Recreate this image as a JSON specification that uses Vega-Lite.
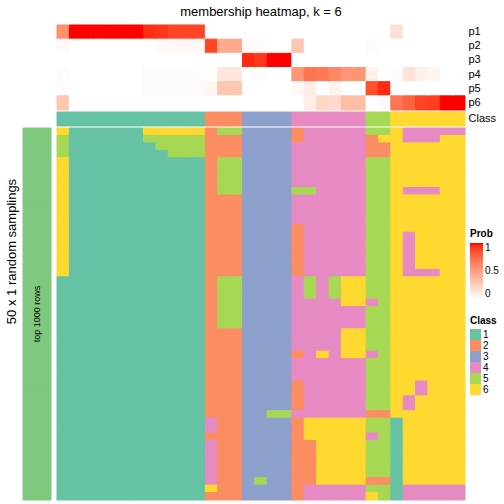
{
"$schema": "https://vega.github.io/schema/vega-lite/v6.json",
"padding": 5,
"config": {"view": {"stroke": null}, "font": "Liberation Sans"},
"columns": 2,
"align": "each",
"bounds": "flush",
"spacing": {"row": 2, "column": 6},
"resolve": {"scale": {"fill": "independent", "stroke": "independent"}},
"datasets": {
"p": [
{"c":0,"p":"p1","v":0.58},{"c":0,"p":"p2","v":0.03},{"c":0,"p":"p3","v":0},{"c":0,"p":"p4","v":0.02},{"c":0,"p":"p5","v":0.02},{"c":0,"p":"p6","v":0.3},
{"c":1,"p":"p1","v":1},{"c":1,"p":"p2","v":0},{"c":1,"p":"p3","v":0},{"c":1,"p":"p4","v":0},{"c":1,"p":"p5","v":0},{"c":1,"p":"p6","v":0},
{"c":2,"p":"p1","v":1},{"c":2,"p":"p2","v":0},{"c":2,"p":"p3","v":0},{"c":2,"p":"p4","v":0},{"c":2,"p":"p5","v":0},{"c":2,"p":"p6","v":0},
{"c":3,"p":"p1","v":1},{"c":3,"p":"p2","v":0},{"c":3,"p":"p3","v":0},{"c":3,"p":"p4","v":0},{"c":3,"p":"p5","v":0},{"c":3,"p":"p6","v":0},
{"c":4,"p":"p1","v":1},{"c":4,"p":"p2","v":0},{"c":4,"p":"p3","v":0},{"c":4,"p":"p4","v":0},{"c":4,"p":"p5","v":0},{"c":4,"p":"p6","v":0},
{"c":5,"p":"p1","v":1},{"c":5,"p":"p2","v":0},{"c":5,"p":"p3","v":0},{"c":5,"p":"p4","v":0},{"c":5,"p":"p5","v":0},{"c":5,"p":"p6","v":0},
{"c":6,"p":"p1","v":1},{"c":6,"p":"p2","v":0},{"c":6,"p":"p3","v":0},{"c":6,"p":"p4","v":0},{"c":6,"p":"p5","v":0},{"c":6,"p":"p6","v":0},
{"c":7,"p":"p1","v":0.94},{"c":7,"p":"p2","v":0},{"c":7,"p":"p3","v":0},{"c":7,"p":"p4","v":0.02},{"c":7,"p":"p5","v":0.02},{"c":7,"p":"p6","v":0},
{"c":8,"p":"p1","v":0.92},{"c":8,"p":"p2","v":0.03},{"c":8,"p":"p3","v":0},{"c":8,"p":"p4","v":0.02},{"c":8,"p":"p5","v":0.02},{"c":8,"p":"p6","v":0},
{"c":9,"p":"p1","v":0.88},{"c":9,"p":"p2","v":0.04},{"c":9,"p":"p3","v":0},{"c":9,"p":"p4","v":0.02},{"c":9,"p":"p5","v":0.02},{"c":9,"p":"p6","v":0},
{"c":10,"p":"p1","v":0.88},{"c":10,"p":"p2","v":0.04},{"c":10,"p":"p3","v":0},{"c":10,"p":"p4","v":0.02},{"c":10,"p":"p5","v":0.02},{"c":10,"p":"p6","v":0},
{"c":11,"p":"p1","v":0.88},{"c":11,"p":"p2","v":0.04},{"c":11,"p":"p3","v":0},{"c":11,"p":"p4","v":0.02},{"c":11,"p":"p5","v":0.02},{"c":11,"p":"p6","v":0},
{"c":12,"p":"p1","v":0},{"c":12,"p":"p2","v":0.88},{"c":12,"p":"p3","v":0},{"c":12,"p":"p4","v":0},{"c":12,"p":"p5","v":0.05},{"c":12,"p":"p6","v":0},
{"c":13,"p":"p1","v":0},{"c":13,"p":"p2","v":0.45},{"c":13,"p":"p3","v":0},{"c":13,"p":"p4","v":0.13},{"c":13,"p":"p5","v":0.3},{"c":13,"p":"p6","v":0},
{"c":14,"p":"p1","v":0},{"c":14,"p":"p2","v":0.45},{"c":14,"p":"p3","v":0},{"c":14,"p":"p4","v":0.13},{"c":14,"p":"p5","v":0.3},{"c":14,"p":"p6","v":0},
{"c":15,"p":"p1","v":0},{"c":15,"p":"p2","v":0.02},{"c":15,"p":"p3","v":0.95},{"c":15,"p":"p4","v":0},{"c":15,"p":"p5","v":0},{"c":15,"p":"p6","v":0},
{"c":16,"p":"p1","v":0},{"c":16,"p":"p2","v":0.02},{"c":16,"p":"p3","v":0.92},{"c":16,"p":"p4","v":0.02},{"c":16,"p":"p5","v":0},{"c":16,"p":"p6","v":0},
{"c":17,"p":"p1","v":0},{"c":17,"p":"p2","v":0},{"c":17,"p":"p3","v":1},{"c":17,"p":"p4","v":0},{"c":17,"p":"p5","v":0},{"c":17,"p":"p6","v":0},
{"c":18,"p":"p1","v":0},{"c":18,"p":"p2","v":0},{"c":18,"p":"p3","v":1},{"c":18,"p":"p4","v":0},{"c":18,"p":"p5","v":0},{"c":18,"p":"p6","v":0},
{"c":19,"p":"p1","v":0},{"c":19,"p":"p2","v":0.3},{"c":19,"p":"p3","v":0},{"c":19,"p":"p4","v":0.55},{"c":19,"p":"p5","v":0.04},{"c":19,"p":"p6","v":0},
{"c":20,"p":"p1","v":0},{"c":20,"p":"p2","v":0},{"c":20,"p":"p3","v":0},{"c":20,"p":"p4","v":0.7},{"c":20,"p":"p5","v":0.1},{"c":20,"p":"p6","v":0.1},
{"c":21,"p":"p1","v":0},{"c":21,"p":"p2","v":0},{"c":21,"p":"p3","v":0},{"c":21,"p":"p4","v":0.68},{"c":21,"p":"p5","v":0},{"c":21,"p":"p6","v":0.22},
{"c":22,"p":"p1","v":0},{"c":22,"p":"p2","v":0},{"c":22,"p":"p3","v":0},{"c":22,"p":"p4","v":0.62},{"c":22,"p":"p5","v":0.06},{"c":22,"p":"p6","v":0.2},
{"c":23,"p":"p1","v":0},{"c":23,"p":"p2","v":0},{"c":23,"p":"p3","v":0},{"c":23,"p":"p4","v":0.55},{"c":23,"p":"p5","v":0},{"c":23,"p":"p6","v":0.35},
{"c":24,"p":"p1","v":0},{"c":24,"p":"p2","v":0},{"c":24,"p":"p3","v":0},{"c":24,"p":"p4","v":0.55},{"c":24,"p":"p5","v":0},{"c":24,"p":"p6","v":0.35},
{"c":25,"p":"p1","v":0},{"c":25,"p":"p2","v":0.02},{"c":25,"p":"p3","v":0},{"c":25,"p":"p4","v":0.07},{"c":25,"p":"p5","v":0.85},{"c":25,"p":"p6","v":0},
{"c":26,"p":"p1","v":0},{"c":26,"p":"p2","v":0},{"c":26,"p":"p3","v":0},{"c":26,"p":"p4","v":0},{"c":26,"p":"p5","v":0.95},{"c":26,"p":"p6","v":0.02},
{"c":27,"p":"p1","v":0.17},{"c":27,"p":"p2","v":0},{"c":27,"p":"p3","v":0},{"c":27,"p":"p4","v":0.02},{"c":27,"p":"p5","v":0},{"c":27,"p":"p6","v":0.7},
{"c":28,"p":"p1","v":0},{"c":28,"p":"p2","v":0},{"c":28,"p":"p3","v":0},{"c":28,"p":"p4","v":0.15},{"c":28,"p":"p5","v":0},{"c":28,"p":"p6","v":0.78},
{"c":29,"p":"p1","v":0},{"c":29,"p":"p2","v":0},{"c":29,"p":"p3","v":0},{"c":29,"p":"p4","v":0.08},{"c":29,"p":"p5","v":0},{"c":29,"p":"p6","v":0.88},
{"c":30,"p":"p1","v":0},{"c":30,"p":"p2","v":0},{"c":30,"p":"p3","v":0},{"c":30,"p":"p4","v":0.05},{"c":30,"p":"p5","v":0},{"c":30,"p":"p6","v":0.9},
{"c":31,"p":"p1","v":0},{"c":31,"p":"p2","v":0},{"c":31,"p":"p3","v":0},{"c":31,"p":"p4","v":0},{"c":31,"p":"p5","v":0},{"c":31,"p":"p6","v":1},
{"c":32,"p":"p1","v":0},{"c":32,"p":"p2","v":0},{"c":32,"p":"p3","v":0},{"c":32,"p":"p4","v":0},{"c":32,"p":"p5","v":0},{"c":32,"p":"p6","v":1}
],
"k": [
{"c":0,"k":1},{"c":1,"k":1},{"c":2,"k":1},{"c":3,"k":1},{"c":4,"k":1},{"c":5,"k":1},{"c":6,"k":1},{"c":7,"k":1},{"c":8,"k":1},{"c":9,"k":1},{"c":10,"k":1},{"c":11,"k":1},
{"c":12,"k":2},{"c":13,"k":2},{"c":14,"k":2},
{"c":15,"k":3},{"c":16,"k":3},{"c":17,"k":3},{"c":18,"k":3},
{"c":19,"k":4},{"c":20,"k":4},{"c":21,"k":4},{"c":22,"k":4},{"c":23,"k":4},{"c":24,"k":4},
{"c":25,"k":5},{"c":26,"k":5},
{"c":27,"k":6},{"c":28,"k":6},{"c":29,"k":6},{"c":30,"k":6},{"c":31,"k":6},{"c":32,"k":6}
],
"m": [
{"r":0,"c":0,"k":6},{"r":0,"c":1,"k":1},{"r":0,"c":2,"k":1},{"r":0,"c":3,"k":1},{"r":0,"c":4,"k":1},{"r":0,"c":5,"k":1},{"r":0,"c":6,"k":1},{"r":0,"c":7,"k":6},{"r":0,"c":8,"k":6},{"r":0,"c":9,"k":6},{"r":0,"c":10,"k":6},{"r":0,"c":11,"k":6},{"r":0,"c":12,"k":2},{"r":0,"c":13,"k":5},{"r":0,"c":14,"k":5},{"r":0,"c":15,"k":3},{"r":0,"c":16,"k":3},{"r":0,"c":17,"k":3},{"r":0,"c":18,"k":3},{"r":0,"c":19,"k":2},{"r":0,"c":20,"k":4},{"r":0,"c":21,"k":4},{"r":0,"c":22,"k":4},{"r":0,"c":23,"k":4},{"r":0,"c":24,"k":4},{"r":0,"c":25,"k":5},{"r":0,"c":26,"k":5},{"r":0,"c":27,"k":6},{"r":0,"c":28,"k":4},{"r":0,"c":29,"k":4},{"r":0,"c":30,"k":4},{"r":0,"c":31,"k":4},{"r":0,"c":32,"k":4},
{"r":1,"c":0,"k":5},{"r":1,"c":1,"k":1},{"r":1,"c":2,"k":1},{"r":1,"c":3,"k":1},{"r":1,"c":4,"k":1},{"r":1,"c":5,"k":1},{"r":1,"c":6,"k":1},{"r":1,"c":7,"k":5},{"r":1,"c":8,"k":5},{"r":1,"c":9,"k":5},{"r":1,"c":10,"k":5},{"r":1,"c":11,"k":5},{"r":1,"c":12,"k":2},{"r":1,"c":13,"k":2},{"r":1,"c":14,"k":2},{"r":1,"c":15,"k":3},{"r":1,"c":16,"k":3},{"r":1,"c":17,"k":3},{"r":1,"c":18,"k":3},{"r":1,"c":19,"k":2},{"r":1,"c":20,"k":4},{"r":1,"c":21,"k":4},{"r":1,"c":22,"k":4},{"r":1,"c":23,"k":4},{"r":1,"c":24,"k":4},{"r":1,"c":25,"k":2},{"r":1,"c":26,"k":6},{"r":1,"c":27,"k":6},{"r":1,"c":28,"k":4},{"r":1,"c":29,"k":4},{"r":1,"c":30,"k":4},{"r":1,"c":31,"k":6},{"r":1,"c":32,"k":6},
{"r":2,"c":0,"k":5},{"r":2,"c":1,"k":1},{"r":2,"c":2,"k":1},{"r":2,"c":3,"k":1},{"r":2,"c":4,"k":1},{"r":2,"c":5,"k":1},{"r":2,"c":6,"k":1},{"r":2,"c":7,"k":1},{"r":2,"c":8,"k":5},{"r":2,"c":9,"k":5},{"r":2,"c":10,"k":5},{"r":2,"c":11,"k":5},{"r":2,"c":12,"k":2},{"r":2,"c":13,"k":2},{"r":2,"c":14,"k":2},{"r":2,"c":15,"k":3},{"r":2,"c":16,"k":3},{"r":2,"c":17,"k":3},{"r":2,"c":18,"k":3},{"r":2,"c":19,"k":4},{"r":2,"c":20,"k":4},{"r":2,"c":21,"k":4},{"r":2,"c":22,"k":4},{"r":2,"c":23,"k":4},{"r":2,"c":24,"k":4},{"r":2,"c":25,"k":2},{"r":2,"c":26,"k":2},{"r":2,"c":27,"k":6},{"r":2,"c":28,"k":6},{"r":2,"c":29,"k":6},{"r":2,"c":30,"k":6},{"r":2,"c":31,"k":6},{"r":2,"c":32,"k":6},
{"r":3,"c":0,"k":5},{"r":3,"c":1,"k":1},{"r":3,"c":2,"k":1},{"r":3,"c":3,"k":1},{"r":3,"c":4,"k":1},{"r":3,"c":5,"k":1},{"r":3,"c":6,"k":1},{"r":3,"c":7,"k":1},{"r":3,"c":8,"k":1},{"r":3,"c":9,"k":5},{"r":3,"c":10,"k":5},{"r":3,"c":11,"k":5},{"r":3,"c":12,"k":2},{"r":3,"c":13,"k":2},{"r":3,"c":14,"k":2},{"r":3,"c":15,"k":3},{"r":3,"c":16,"k":3},{"r":3,"c":17,"k":3},{"r":3,"c":18,"k":3},{"r":3,"c":19,"k":4},{"r":3,"c":20,"k":4},{"r":3,"c":21,"k":4},{"r":3,"c":22,"k":4},{"r":3,"c":23,"k":4},{"r":3,"c":24,"k":4},{"r":3,"c":25,"k":2},{"r":3,"c":26,"k":2},{"r":3,"c":27,"k":6},{"r":3,"c":28,"k":6},{"r":3,"c":29,"k":6},{"r":3,"c":30,"k":6},{"r":3,"c":31,"k":6},{"r":3,"c":32,"k":6},
{"r":4,"c":0,"k":6},{"r":4,"c":1,"k":1},{"r":4,"c":2,"k":1},{"r":4,"c":3,"k":1},{"r":4,"c":4,"k":1},{"r":4,"c":5,"k":1},{"r":4,"c":6,"k":1},{"r":4,"c":7,"k":1},{"r":4,"c":8,"k":1},{"r":4,"c":9,"k":1},{"r":4,"c":10,"k":1},{"r":4,"c":11,"k":1},{"r":4,"c":12,"k":2},{"r":4,"c":13,"k":5},{"r":4,"c":14,"k":5},{"r":4,"c":15,"k":3},{"r":4,"c":16,"k":3},{"r":4,"c":17,"k":3},{"r":4,"c":18,"k":3},{"r":4,"c":19,"k":4},{"r":4,"c":20,"k":4},{"r":4,"c":21,"k":4},{"r":4,"c":22,"k":4},{"r":4,"c":23,"k":4},{"r":4,"c":24,"k":4},{"r":4,"c":25,"k":5},{"r":4,"c":26,"k":5},{"r":4,"c":27,"k":6},{"r":4,"c":28,"k":6},{"r":4,"c":29,"k":6},{"r":4,"c":30,"k":6},{"r":4,"c":31,"k":6},{"r":4,"c":32,"k":6},
{"r":5,"c":0,"k":6},{"r":5,"c":1,"k":1},{"r":5,"c":2,"k":1},{"r":5,"c":3,"k":1},{"r":5,"c":4,"k":1},{"r":5,"c":5,"k":1},{"r":5,"c":6,"k":1},{"r":5,"c":7,"k":1},{"r":5,"c":8,"k":1},{"r":5,"c":9,"k":1},{"r":5,"c":10,"k":1},{"r":5,"c":11,"k":1},{"r":5,"c":12,"k":2},{"r":5,"c":13,"k":5},{"r":5,"c":14,"k":5},{"r":5,"c":15,"k":3},{"r":5,"c":16,"k":3},{"r":5,"c":17,"k":3},{"r":5,"c":18,"k":3},{"r":5,"c":19,"k":4},{"r":5,"c":20,"k":4},{"r":5,"c":21,"k":4},{"r":5,"c":22,"k":4},{"r":5,"c":23,"k":4},{"r":5,"c":24,"k":4},{"r":5,"c":25,"k":5},{"r":5,"c":26,"k":5},{"r":5,"c":27,"k":6},{"r":5,"c":28,"k":6},{"r":5,"c":29,"k":6},{"r":5,"c":30,"k":6},{"r":5,"c":31,"k":6},{"r":5,"c":32,"k":6},
{"r":6,"c":0,"k":6},{"r":6,"c":1,"k":1},{"r":6,"c":2,"k":1},{"r":6,"c":3,"k":1},{"r":6,"c":4,"k":1},{"r":6,"c":5,"k":1},{"r":6,"c":6,"k":1},{"r":6,"c":7,"k":1},{"r":6,"c":8,"k":1},{"r":6,"c":9,"k":1},{"r":6,"c":10,"k":1},{"r":6,"c":11,"k":1},{"r":6,"c":12,"k":2},{"r":6,"c":13,"k":5},{"r":6,"c":14,"k":5},{"r":6,"c":15,"k":3},{"r":6,"c":16,"k":3},{"r":6,"c":17,"k":3},{"r":6,"c":18,"k":3},{"r":6,"c":19,"k":4},{"r":6,"c":20,"k":4},{"r":6,"c":21,"k":4},{"r":6,"c":22,"k":4},{"r":6,"c":23,"k":4},{"r":6,"c":24,"k":4},{"r":6,"c":25,"k":5},{"r":6,"c":26,"k":5},{"r":6,"c":27,"k":6},{"r":6,"c":28,"k":6},{"r":6,"c":29,"k":6},{"r":6,"c":30,"k":6},{"r":6,"c":31,"k":6},{"r":6,"c":32,"k":6},
{"r":7,"c":0,"k":6},{"r":7,"c":1,"k":1},{"r":7,"c":2,"k":1},{"r":7,"c":3,"k":1},{"r":7,"c":4,"k":1},{"r":7,"c":5,"k":1},{"r":7,"c":6,"k":1},{"r":7,"c":7,"k":1},{"r":7,"c":8,"k":1},{"r":7,"c":9,"k":1},{"r":7,"c":10,"k":1},{"r":7,"c":11,"k":1},{"r":7,"c":12,"k":2},{"r":7,"c":13,"k":5},{"r":7,"c":14,"k":5},{"r":7,"c":15,"k":3},{"r":7,"c":16,"k":3},{"r":7,"c":17,"k":3},{"r":7,"c":18,"k":3},{"r":7,"c":19,"k":4},{"r":7,"c":20,"k":4},{"r":7,"c":21,"k":4},{"r":7,"c":22,"k":4},{"r":7,"c":23,"k":4},{"r":7,"c":24,"k":4},{"r":7,"c":25,"k":5},{"r":7,"c":26,"k":5},{"r":7,"c":27,"k":6},{"r":7,"c":28,"k":6},{"r":7,"c":29,"k":6},{"r":7,"c":30,"k":6},{"r":7,"c":31,"k":6},{"r":7,"c":32,"k":6},
{"r":8,"c":0,"k":6},{"r":8,"c":1,"k":1},{"r":8,"c":2,"k":1},{"r":8,"c":3,"k":1},{"r":8,"c":4,"k":1},{"r":8,"c":5,"k":1},{"r":8,"c":6,"k":1},{"r":8,"c":7,"k":1},{"r":8,"c":8,"k":1},{"r":8,"c":9,"k":1},{"r":8,"c":10,"k":1},{"r":8,"c":11,"k":1},{"r":8,"c":12,"k":2},{"r":8,"c":13,"k":5},{"r":8,"c":14,"k":5},{"r":8,"c":15,"k":3},{"r":8,"c":16,"k":3},{"r":8,"c":17,"k":3},{"r":8,"c":18,"k":3},{"r":8,"c":19,"k":5},{"r":8,"c":20,"k":5},{"r":8,"c":21,"k":4},{"r":8,"c":22,"k":4},{"r":8,"c":23,"k":4},{"r":8,"c":24,"k":4},{"r":8,"c":25,"k":5},{"r":8,"c":26,"k":5},{"r":8,"c":27,"k":6},{"r":8,"c":28,"k":4},{"r":8,"c":29,"k":4},{"r":8,"c":30,"k":4},{"r":8,"c":31,"k":6},{"r":8,"c":32,"k":6},
{"r":9,"c":0,"k":6},{"r":9,"c":1,"k":1},{"r":9,"c":2,"k":1},{"r":9,"c":3,"k":1},{"r":9,"c":4,"k":1},{"r":9,"c":5,"k":1},{"r":9,"c":6,"k":1},{"r":9,"c":7,"k":1},{"r":9,"c":8,"k":1},{"r":9,"c":9,"k":1},{"r":9,"c":10,"k":1},{"r":9,"c":11,"k":1},{"r":9,"c":12,"k":2},{"r":9,"c":13,"k":2},{"r":9,"c":14,"k":2},{"r":9,"c":15,"k":3},{"r":9,"c":16,"k":3},{"r":9,"c":17,"k":3},{"r":9,"c":18,"k":3},{"r":9,"c":19,"k":4},{"r":9,"c":20,"k":4},{"r":9,"c":21,"k":4},{"r":9,"c":22,"k":4},{"r":9,"c":23,"k":4},{"r":9,"c":24,"k":4},{"r":9,"c":25,"k":5},{"r":9,"c":26,"k":5},{"r":9,"c":27,"k":6},{"r":9,"c":28,"k":6},{"r":9,"c":29,"k":6},{"r":9,"c":30,"k":6},{"r":9,"c":31,"k":6},{"r":9,"c":32,"k":6},
{"r":10,"c":0,"k":6},{"r":10,"c":1,"k":1},{"r":10,"c":2,"k":1},{"r":10,"c":3,"k":1},{"r":10,"c":4,"k":1},{"r":10,"c":5,"k":1},{"r":10,"c":6,"k":1},{"r":10,"c":7,"k":1},{"r":10,"c":8,"k":1},{"r":10,"c":9,"k":1},{"r":10,"c":10,"k":1},{"r":10,"c":11,"k":1},{"r":10,"c":12,"k":2},{"r":10,"c":13,"k":2},{"r":10,"c":14,"k":2},{"r":10,"c":15,"k":3},{"r":10,"c":16,"k":3},{"r":10,"c":17,"k":3},{"r":10,"c":18,"k":3},{"r":10,"c":19,"k":4},{"r":10,"c":20,"k":4},{"r":10,"c":21,"k":4},{"r":10,"c":22,"k":4},{"r":10,"c":23,"k":4},{"r":10,"c":24,"k":4},{"r":10,"c":25,"k":5},{"r":10,"c":26,"k":5},{"r":10,"c":27,"k":6},{"r":10,"c":28,"k":6},{"r":10,"c":29,"k":6},{"r":10,"c":30,"k":6},{"r":10,"c":31,"k":6},{"r":10,"c":32,"k":6},
{"r":11,"c":0,"k":6},{"r":11,"c":1,"k":1},{"r":11,"c":2,"k":1},{"r":11,"c":3,"k":1},{"r":11,"c":4,"k":1},{"r":11,"c":5,"k":1},{"r":11,"c":6,"k":1},{"r":11,"c":7,"k":1},{"r":11,"c":8,"k":1},{"r":11,"c":9,"k":1},{"r":11,"c":10,"k":1},{"r":11,"c":11,"k":1},{"r":11,"c":12,"k":2},{"r":11,"c":13,"k":2},{"r":11,"c":14,"k":2},{"r":11,"c":15,"k":3},{"r":11,"c":16,"k":3},{"r":11,"c":17,"k":3},{"r":11,"c":18,"k":3},{"r":11,"c":19,"k":4},{"r":11,"c":20,"k":4},{"r":11,"c":21,"k":4},{"r":11,"c":22,"k":4},{"r":11,"c":23,"k":4},{"r":11,"c":24,"k":4},{"r":11,"c":25,"k":5},{"r":11,"c":26,"k":5},{"r":11,"c":27,"k":6},{"r":11,"c":28,"k":6},{"r":11,"c":29,"k":6},{"r":11,"c":30,"k":6},{"r":11,"c":31,"k":6},{"r":11,"c":32,"k":6},
{"r":12,"c":0,"k":6},{"r":12,"c":1,"k":1},{"r":12,"c":2,"k":1},{"r":12,"c":3,"k":1},{"r":12,"c":4,"k":1},{"r":12,"c":5,"k":1},{"r":12,"c":6,"k":1},{"r":12,"c":7,"k":1},{"r":12,"c":8,"k":1},{"r":12,"c":9,"k":1},{"r":12,"c":10,"k":1},{"r":12,"c":11,"k":1},{"r":12,"c":12,"k":2},{"r":12,"c":13,"k":2},{"r":12,"c":14,"k":2},{"r":12,"c":15,"k":3},{"r":12,"c":16,"k":3},{"r":12,"c":17,"k":3},{"r":12,"c":18,"k":3},{"r":12,"c":19,"k":4},{"r":12,"c":20,"k":4},{"r":12,"c":21,"k":4},{"r":12,"c":22,"k":4},{"r":12,"c":23,"k":4},{"r":12,"c":24,"k":4},{"r":12,"c":25,"k":5},{"r":12,"c":26,"k":5},{"r":12,"c":27,"k":6},{"r":12,"c":28,"k":6},{"r":12,"c":29,"k":6},{"r":12,"c":30,"k":6},{"r":12,"c":31,"k":6},{"r":12,"c":32,"k":6},
{"r":13,"c":0,"k":6},{"r":13,"c":1,"k":1},{"r":13,"c":2,"k":1},{"r":13,"c":3,"k":1},{"r":13,"c":4,"k":1},{"r":13,"c":5,"k":1},{"r":13,"c":6,"k":1},{"r":13,"c":7,"k":1},{"r":13,"c":8,"k":1},{"r":13,"c":9,"k":1},{"r":13,"c":10,"k":1},{"r":13,"c":11,"k":1},{"r":13,"c":12,"k":2},{"r":13,"c":13,"k":2},{"r":13,"c":14,"k":2},{"r":13,"c":15,"k":3},{"r":13,"c":16,"k":3},{"r":13,"c":17,"k":3},{"r":13,"c":18,"k":3},{"r":13,"c":19,"k":2},{"r":13,"c":20,"k":4},{"r":13,"c":21,"k":4},{"r":13,"c":22,"k":4},{"r":13,"c":23,"k":4},{"r":13,"c":24,"k":4},{"r":13,"c":25,"k":5},{"r":13,"c":26,"k":5},{"r":13,"c":27,"k":6},{"r":13,"c":28,"k":6},{"r":13,"c":29,"k":6},{"r":13,"c":30,"k":6},{"r":13,"c":31,"k":6},{"r":13,"c":32,"k":6},
{"r":14,"c":0,"k":6},{"r":14,"c":1,"k":1},{"r":14,"c":2,"k":1},{"r":14,"c":3,"k":1},{"r":14,"c":4,"k":1},{"r":14,"c":5,"k":1},{"r":14,"c":6,"k":1},{"r":14,"c":7,"k":1},{"r":14,"c":8,"k":1},{"r":14,"c":9,"k":1},{"r":14,"c":10,"k":1},{"r":14,"c":11,"k":1},{"r":14,"c":12,"k":2},{"r":14,"c":13,"k":2},{"r":14,"c":14,"k":2},{"r":14,"c":15,"k":3},{"r":14,"c":16,"k":3},{"r":14,"c":17,"k":3},{"r":14,"c":18,"k":3},{"r":14,"c":19,"k":2},{"r":14,"c":20,"k":4},{"r":14,"c":21,"k":4},{"r":14,"c":22,"k":4},{"r":14,"c":23,"k":4},{"r":14,"c":24,"k":4},{"r":14,"c":25,"k":5},{"r":14,"c":26,"k":5},{"r":14,"c":27,"k":6},{"r":14,"c":28,"k":4},{"r":14,"c":29,"k":6},{"r":14,"c":30,"k":6},{"r":14,"c":31,"k":6},{"r":14,"c":32,"k":6},
{"r":15,"c":0,"k":6},{"r":15,"c":1,"k":1},{"r":15,"c":2,"k":1},{"r":15,"c":3,"k":1},{"r":15,"c":4,"k":1},{"r":15,"c":5,"k":1},{"r":15,"c":6,"k":1},{"r":15,"c":7,"k":1},{"r":15,"c":8,"k":1},{"r":15,"c":9,"k":1},{"r":15,"c":10,"k":1},{"r":15,"c":11,"k":1},{"r":15,"c":12,"k":2},{"r":15,"c":13,"k":2},{"r":15,"c":14,"k":2},{"r":15,"c":15,"k":3},{"r":15,"c":16,"k":3},{"r":15,"c":17,"k":3},{"r":15,"c":18,"k":3},{"r":15,"c":19,"k":2},{"r":15,"c":20,"k":4},{"r":15,"c":21,"k":4},{"r":15,"c":22,"k":4},{"r":15,"c":23,"k":4},{"r":15,"c":24,"k":4},{"r":15,"c":25,"k":5},{"r":15,"c":26,"k":5},{"r":15,"c":27,"k":6},{"r":15,"c":28,"k":4},{"r":15,"c":29,"k":6},{"r":15,"c":30,"k":6},{"r":15,"c":31,"k":6},{"r":15,"c":32,"k":6},
{"r":16,"c":0,"k":6},{"r":16,"c":1,"k":1},{"r":16,"c":2,"k":1},{"r":16,"c":3,"k":1},{"r":16,"c":4,"k":1},{"r":16,"c":5,"k":1},{"r":16,"c":6,"k":1},{"r":16,"c":7,"k":1},{"r":16,"c":8,"k":1},{"r":16,"c":9,"k":1},{"r":16,"c":10,"k":1},{"r":16,"c":11,"k":1},{"r":16,"c":12,"k":2},{"r":16,"c":13,"k":2},{"r":16,"c":14,"k":2},{"r":16,"c":15,"k":3},{"r":16,"c":16,"k":3},{"r":16,"c":17,"k":3},{"r":16,"c":18,"k":3},{"r":16,"c":19,"k":2},{"r":16,"c":20,"k":4},{"r":16,"c":21,"k":4},{"r":16,"c":22,"k":4},{"r":16,"c":23,"k":4},{"r":16,"c":24,"k":4},{"r":16,"c":25,"k":5},{"r":16,"c":26,"k":5},{"r":16,"c":27,"k":6},{"r":16,"c":28,"k":4},{"r":16,"c":29,"k":6},{"r":16,"c":30,"k":6},{"r":16,"c":31,"k":6},{"r":16,"c":32,"k":6},
{"r":17,"c":0,"k":6},{"r":17,"c":1,"k":1},{"r":17,"c":2,"k":1},{"r":17,"c":3,"k":1},{"r":17,"c":4,"k":1},{"r":17,"c":5,"k":1},{"r":17,"c":6,"k":1},{"r":17,"c":7,"k":1},{"r":17,"c":8,"k":1},{"r":17,"c":9,"k":1},{"r":17,"c":10,"k":1},{"r":17,"c":11,"k":1},{"r":17,"c":12,"k":2},{"r":17,"c":13,"k":2},{"r":17,"c":14,"k":2},{"r":17,"c":15,"k":3},{"r":17,"c":16,"k":3},{"r":17,"c":17,"k":3},{"r":17,"c":18,"k":3},{"r":17,"c":19,"k":2},{"r":17,"c":20,"k":4},{"r":17,"c":21,"k":4},{"r":17,"c":22,"k":4},{"r":17,"c":23,"k":4},{"r":17,"c":24,"k":4},{"r":17,"c":25,"k":5},{"r":17,"c":26,"k":5},{"r":17,"c":27,"k":6},{"r":17,"c":28,"k":4},{"r":17,"c":29,"k":6},{"r":17,"c":30,"k":6},{"r":17,"c":31,"k":6},{"r":17,"c":32,"k":6},
{"r":18,"c":0,"k":6},{"r":18,"c":1,"k":1},{"r":18,"c":2,"k":1},{"r":18,"c":3,"k":1},{"r":18,"c":4,"k":1},{"r":18,"c":5,"k":1},{"r":18,"c":6,"k":1},{"r":18,"c":7,"k":1},{"r":18,"c":8,"k":1},{"r":18,"c":9,"k":1},{"r":18,"c":10,"k":1},{"r":18,"c":11,"k":1},{"r":18,"c":12,"k":2},{"r":18,"c":13,"k":2},{"r":18,"c":14,"k":2},{"r":18,"c":15,"k":3},{"r":18,"c":16,"k":3},{"r":18,"c":17,"k":3},{"r":18,"c":18,"k":3},{"r":18,"c":19,"k":2},{"r":18,"c":20,"k":4},{"r":18,"c":21,"k":4},{"r":18,"c":22,"k":4},{"r":18,"c":23,"k":4},{"r":18,"c":24,"k":4},{"r":18,"c":25,"k":5},{"r":18,"c":26,"k":5},{"r":18,"c":27,"k":6},{"r":18,"c":28,"k":4},{"r":18,"c":29,"k":6},{"r":18,"c":30,"k":6},{"r":18,"c":31,"k":6},{"r":18,"c":32,"k":6},
{"r":19,"c":0,"k":6},{"r":19,"c":1,"k":1},{"r":19,"c":2,"k":1},{"r":19,"c":3,"k":1},{"r":19,"c":4,"k":1},{"r":19,"c":5,"k":1},{"r":19,"c":6,"k":1},{"r":19,"c":7,"k":1},{"r":19,"c":8,"k":1},{"r":19,"c":9,"k":1},{"r":19,"c":10,"k":1},{"r":19,"c":11,"k":1},{"r":19,"c":12,"k":2},{"r":19,"c":13,"k":2},{"r":19,"c":14,"k":2},{"r":19,"c":15,"k":3},{"r":19,"c":16,"k":3},{"r":19,"c":17,"k":3},{"r":19,"c":18,"k":3},{"r":19,"c":19,"k":2},{"r":19,"c":20,"k":4},{"r":19,"c":21,"k":4},{"r":19,"c":22,"k":4},{"r":19,"c":23,"k":4},{"r":19,"c":24,"k":4},{"r":19,"c":25,"k":5},{"r":19,"c":26,"k":5},{"r":19,"c":27,"k":6},{"r":19,"c":28,"k":4},{"r":19,"c":29,"k":4},{"r":19,"c":30,"k":4},{"r":19,"c":31,"k":6},{"r":19,"c":32,"k":6},
{"r":20,"c":0,"k":1},{"r":20,"c":1,"k":1},{"r":20,"c":2,"k":1},{"r":20,"c":3,"k":1},{"r":20,"c":4,"k":1},{"r":20,"c":5,"k":1},{"r":20,"c":6,"k":1},{"r":20,"c":7,"k":1},{"r":20,"c":8,"k":1},{"r":20,"c":9,"k":1},{"r":20,"c":10,"k":1},{"r":20,"c":11,"k":1},{"r":20,"c":12,"k":2},{"r":20,"c":13,"k":5},{"r":20,"c":14,"k":5},{"r":20,"c":15,"k":3},{"r":20,"c":16,"k":3},{"r":20,"c":17,"k":3},{"r":20,"c":18,"k":3},{"r":20,"c":19,"k":4},{"r":20,"c":20,"k":5},{"r":20,"c":21,"k":4},{"r":20,"c":22,"k":5},{"r":20,"c":23,"k":6},{"r":20,"c":24,"k":6},{"r":20,"c":25,"k":5},{"r":20,"c":26,"k":5},{"r":20,"c":27,"k":6},{"r":20,"c":28,"k":6},{"r":20,"c":29,"k":6},{"r":20,"c":30,"k":6},{"r":20,"c":31,"k":6},{"r":20,"c":32,"k":6},
{"r":21,"c":0,"k":1},{"r":21,"c":1,"k":1},{"r":21,"c":2,"k":1},{"r":21,"c":3,"k":1},{"r":21,"c":4,"k":1},{"r":21,"c":5,"k":1},{"r":21,"c":6,"k":1},{"r":21,"c":7,"k":1},{"r":21,"c":8,"k":1},{"r":21,"c":9,"k":1},{"r":21,"c":10,"k":1},{"r":21,"c":11,"k":1},{"r":21,"c":12,"k":2},{"r":21,"c":13,"k":5},{"r":21,"c":14,"k":5},{"r":21,"c":15,"k":3},{"r":21,"c":16,"k":3},{"r":21,"c":17,"k":3},{"r":21,"c":18,"k":3},{"r":21,"c":19,"k":4},{"r":21,"c":20,"k":5},{"r":21,"c":21,"k":4},{"r":21,"c":22,"k":5},{"r":21,"c":23,"k":6},{"r":21,"c":24,"k":6},{"r":21,"c":25,"k":5},{"r":21,"c":26,"k":5},{"r":21,"c":27,"k":6},{"r":21,"c":28,"k":6},{"r":21,"c":29,"k":6},{"r":21,"c":30,"k":6},{"r":21,"c":31,"k":6},{"r":21,"c":32,"k":6},
{"r":22,"c":0,"k":1},{"r":22,"c":1,"k":1},{"r":22,"c":2,"k":1},{"r":22,"c":3,"k":1},{"r":22,"c":4,"k":1},{"r":22,"c":5,"k":1},{"r":22,"c":6,"k":1},{"r":22,"c":7,"k":1},{"r":22,"c":8,"k":1},{"r":22,"c":9,"k":1},{"r":22,"c":10,"k":1},{"r":22,"c":11,"k":1},{"r":22,"c":12,"k":2},{"r":22,"c":13,"k":5},{"r":22,"c":14,"k":5},{"r":22,"c":15,"k":3},{"r":22,"c":16,"k":3},{"r":22,"c":17,"k":3},{"r":22,"c":18,"k":3},{"r":22,"c":19,"k":4},{"r":22,"c":20,"k":5},{"r":22,"c":21,"k":4},{"r":22,"c":22,"k":5},{"r":22,"c":23,"k":6},{"r":22,"c":24,"k":6},{"r":22,"c":25,"k":5},{"r":22,"c":26,"k":5},{"r":22,"c":27,"k":6},{"r":22,"c":28,"k":6},{"r":22,"c":29,"k":6},{"r":22,"c":30,"k":6},{"r":22,"c":31,"k":6},{"r":22,"c":32,"k":6},
{"r":23,"c":0,"k":1},{"r":23,"c":1,"k":1},{"r":23,"c":2,"k":1},{"r":23,"c":3,"k":1},{"r":23,"c":4,"k":1},{"r":23,"c":5,"k":1},{"r":23,"c":6,"k":1},{"r":23,"c":7,"k":1},{"r":23,"c":8,"k":1},{"r":23,"c":9,"k":1},{"r":23,"c":10,"k":1},{"r":23,"c":11,"k":1},{"r":23,"c":12,"k":2},{"r":23,"c":13,"k":5},{"r":23,"c":14,"k":5},{"r":23,"c":15,"k":3},{"r":23,"c":16,"k":3},{"r":23,"c":17,"k":3},{"r":23,"c":18,"k":3},{"r":23,"c":19,"k":4},{"r":23,"c":20,"k":4},{"r":23,"c":21,"k":4},{"r":23,"c":22,"k":4},{"r":23,"c":23,"k":6},{"r":23,"c":24,"k":6},{"r":23,"c":25,"k":4},{"r":23,"c":26,"k":5},{"r":23,"c":27,"k":6},{"r":23,"c":28,"k":6},{"r":23,"c":29,"k":6},{"r":23,"c":30,"k":6},{"r":23,"c":31,"k":6},{"r":23,"c":32,"k":6},
{"r":24,"c":0,"k":1},{"r":24,"c":1,"k":1},{"r":24,"c":2,"k":1},{"r":24,"c":3,"k":1},{"r":24,"c":4,"k":1},{"r":24,"c":5,"k":1},{"r":24,"c":6,"k":1},{"r":24,"c":7,"k":1},{"r":24,"c":8,"k":1},{"r":24,"c":9,"k":1},{"r":24,"c":10,"k":1},{"r":24,"c":11,"k":1},{"r":24,"c":12,"k":2},{"r":24,"c":13,"k":5},{"r":24,"c":14,"k":5},{"r":24,"c":15,"k":3},{"r":24,"c":16,"k":3},{"r":24,"c":17,"k":3},{"r":24,"c":18,"k":3},{"r":24,"c":19,"k":4},{"r":24,"c":20,"k":4},{"r":24,"c":21,"k":4},{"r":24,"c":22,"k":4},{"r":24,"c":23,"k":4},{"r":24,"c":24,"k":4},{"r":24,"c":25,"k":5},{"r":24,"c":26,"k":5},{"r":24,"c":27,"k":6},{"r":24,"c":28,"k":6},{"r":24,"c":29,"k":6},{"r":24,"c":30,"k":6},{"r":24,"c":31,"k":6},{"r":24,"c":32,"k":6},
{"r":25,"c":0,"k":1},{"r":25,"c":1,"k":1},{"r":25,"c":2,"k":1},{"r":25,"c":3,"k":1},{"r":25,"c":4,"k":1},{"r":25,"c":5,"k":1},{"r":25,"c":6,"k":1},{"r":25,"c":7,"k":1},{"r":25,"c":8,"k":1},{"r":25,"c":9,"k":1},{"r":25,"c":10,"k":1},{"r":25,"c":11,"k":1},{"r":25,"c":12,"k":2},{"r":25,"c":13,"k":5},{"r":25,"c":14,"k":5},{"r":25,"c":15,"k":3},{"r":25,"c":16,"k":3},{"r":25,"c":17,"k":3},{"r":25,"c":18,"k":3},{"r":25,"c":19,"k":4},{"r":25,"c":20,"k":4},{"r":25,"c":21,"k":4},{"r":25,"c":22,"k":4},{"r":25,"c":23,"k":4},{"r":25,"c":24,"k":4},{"r":25,"c":25,"k":5},{"r":25,"c":26,"k":5},{"r":25,"c":27,"k":6},{"r":25,"c":28,"k":6},{"r":25,"c":29,"k":6},{"r":25,"c":30,"k":6},{"r":25,"c":31,"k":6},{"r":25,"c":32,"k":6},
{"r":26,"c":0,"k":1},{"r":26,"c":1,"k":1},{"r":26,"c":2,"k":1},{"r":26,"c":3,"k":1},{"r":26,"c":4,"k":1},{"r":26,"c":5,"k":1},{"r":26,"c":6,"k":1},{"r":26,"c":7,"k":1},{"r":26,"c":8,"k":1},{"r":26,"c":9,"k":1},{"r":26,"c":10,"k":1},{"r":26,"c":11,"k":1},{"r":26,"c":12,"k":2},{"r":26,"c":13,"k":5},{"r":26,"c":14,"k":5},{"r":26,"c":15,"k":3},{"r":26,"c":16,"k":3},{"r":26,"c":17,"k":3},{"r":26,"c":18,"k":3},{"r":26,"c":19,"k":4},{"r":26,"c":20,"k":4},{"r":26,"c":21,"k":4},{"r":26,"c":22,"k":4},{"r":26,"c":23,"k":4},{"r":26,"c":24,"k":4},{"r":26,"c":25,"k":5},{"r":26,"c":26,"k":5},{"r":26,"c":27,"k":6},{"r":26,"c":28,"k":6},{"r":26,"c":29,"k":6},{"r":26,"c":30,"k":6},{"r":26,"c":31,"k":6},{"r":26,"c":32,"k":6},
{"r":27,"c":0,"k":1},{"r":27,"c":1,"k":1},{"r":27,"c":2,"k":1},{"r":27,"c":3,"k":1},{"r":27,"c":4,"k":1},{"r":27,"c":5,"k":1},{"r":27,"c":6,"k":1},{"r":27,"c":7,"k":1},{"r":27,"c":8,"k":1},{"r":27,"c":9,"k":1},{"r":27,"c":10,"k":1},{"r":27,"c":11,"k":1},{"r":27,"c":12,"k":2},{"r":27,"c":13,"k":2},{"r":27,"c":14,"k":2},{"r":27,"c":15,"k":3},{"r":27,"c":16,"k":3},{"r":27,"c":17,"k":3},{"r":27,"c":18,"k":3},{"r":27,"c":19,"k":4},{"r":27,"c":20,"k":4},{"r":27,"c":21,"k":4},{"r":27,"c":22,"k":4},{"r":27,"c":23,"k":6},{"r":27,"c":24,"k":6},{"r":27,"c":25,"k":5},{"r":27,"c":26,"k":5},{"r":27,"c":27,"k":6},{"r":27,"c":28,"k":6},{"r":27,"c":29,"k":6},{"r":27,"c":30,"k":6},{"r":27,"c":31,"k":6},{"r":27,"c":32,"k":6},
{"r":28,"c":0,"k":1},{"r":28,"c":1,"k":1},{"r":28,"c":2,"k":1},{"r":28,"c":3,"k":1},{"r":28,"c":4,"k":1},{"r":28,"c":5,"k":1},{"r":28,"c":6,"k":1},{"r":28,"c":7,"k":1},{"r":28,"c":8,"k":1},{"r":28,"c":9,"k":1},{"r":28,"c":10,"k":1},{"r":28,"c":11,"k":1},{"r":28,"c":12,"k":2},{"r":28,"c":13,"k":2},{"r":28,"c":14,"k":2},{"r":28,"c":15,"k":3},{"r":28,"c":16,"k":3},{"r":28,"c":17,"k":3},{"r":28,"c":18,"k":3},{"r":28,"c":19,"k":4},{"r":28,"c":20,"k":4},{"r":28,"c":21,"k":4},{"r":28,"c":22,"k":4},{"r":28,"c":23,"k":6},{"r":28,"c":24,"k":6},{"r":28,"c":25,"k":5},{"r":28,"c":26,"k":5},{"r":28,"c":27,"k":6},{"r":28,"c":28,"k":6},{"r":28,"c":29,"k":6},{"r":28,"c":30,"k":6},{"r":28,"c":31,"k":6},{"r":28,"c":32,"k":6},
{"r":29,"c":0,"k":1},{"r":29,"c":1,"k":1},{"r":29,"c":2,"k":1},{"r":29,"c":3,"k":1},{"r":29,"c":4,"k":1},{"r":29,"c":5,"k":1},{"r":29,"c":6,"k":1},{"r":29,"c":7,"k":1},{"r":29,"c":8,"k":1},{"r":29,"c":9,"k":1},{"r":29,"c":10,"k":1},{"r":29,"c":11,"k":1},{"r":29,"c":12,"k":2},{"r":29,"c":13,"k":2},{"r":29,"c":14,"k":2},{"r":29,"c":15,"k":3},{"r":29,"c":16,"k":3},{"r":29,"c":17,"k":3},{"r":29,"c":18,"k":3},{"r":29,"c":19,"k":4},{"r":29,"c":20,"k":4},{"r":29,"c":21,"k":4},{"r":29,"c":22,"k":4},{"r":29,"c":23,"k":6},{"r":29,"c":24,"k":6},{"r":29,"c":25,"k":5},{"r":29,"c":26,"k":5},{"r":29,"c":27,"k":6},{"r":29,"c":28,"k":6},{"r":29,"c":29,"k":6},{"r":29,"c":30,"k":6},{"r":29,"c":31,"k":6},{"r":29,"c":32,"k":6},
{"r":30,"c":0,"k":1},{"r":30,"c":1,"k":1},{"r":30,"c":2,"k":1},{"r":30,"c":3,"k":1},{"r":30,"c":4,"k":1},{"r":30,"c":5,"k":1},{"r":30,"c":6,"k":1},{"r":30,"c":7,"k":1},{"r":30,"c":8,"k":1},{"r":30,"c":9,"k":1},{"r":30,"c":10,"k":1},{"r":30,"c":11,"k":1},{"r":30,"c":12,"k":2},{"r":30,"c":13,"k":2},{"r":30,"c":14,"k":2},{"r":30,"c":15,"k":3},{"r":30,"c":16,"k":3},{"r":30,"c":17,"k":3},{"r":30,"c":18,"k":3},{"r":30,"c":19,"k":2},{"r":30,"c":20,"k":4},{"r":30,"c":21,"k":6},{"r":30,"c":22,"k":4},{"r":30,"c":23,"k":6},{"r":30,"c":24,"k":6},{"r":30,"c":25,"k":4},{"r":30,"c":26,"k":5},{"r":30,"c":27,"k":6},{"r":30,"c":28,"k":6},{"r":30,"c":29,"k":6},{"r":30,"c":30,"k":6},{"r":30,"c":31,"k":6},{"r":30,"c":32,"k":6},
{"r":31,"c":0,"k":1},{"r":31,"c":1,"k":1},{"r":31,"c":2,"k":1},{"r":31,"c":3,"k":1},{"r":31,"c":4,"k":1},{"r":31,"c":5,"k":1},{"r":31,"c":6,"k":1},{"r":31,"c":7,"k":1},{"r":31,"c":8,"k":1},{"r":31,"c":9,"k":1},{"r":31,"c":10,"k":1},{"r":31,"c":11,"k":1},{"r":31,"c":12,"k":2},{"r":31,"c":13,"k":2},{"r":31,"c":14,"k":2},{"r":31,"c":15,"k":3},{"r":31,"c":16,"k":3},{"r":31,"c":17,"k":3},{"r":31,"c":18,"k":3},{"r":31,"c":19,"k":4},{"r":31,"c":20,"k":4},{"r":31,"c":21,"k":4},{"r":31,"c":22,"k":4},{"r":31,"c":23,"k":4},{"r":31,"c":24,"k":4},{"r":31,"c":25,"k":5},{"r":31,"c":26,"k":5},{"r":31,"c":27,"k":6},{"r":31,"c":28,"k":6},{"r":31,"c":29,"k":6},{"r":31,"c":30,"k":6},{"r":31,"c":31,"k":6},{"r":31,"c":32,"k":6},
{"r":32,"c":0,"k":1},{"r":32,"c":1,"k":1},{"r":32,"c":2,"k":1},{"r":32,"c":3,"k":1},{"r":32,"c":4,"k":1},{"r":32,"c":5,"k":1},{"r":32,"c":6,"k":1},{"r":32,"c":7,"k":1},{"r":32,"c":8,"k":1},{"r":32,"c":9,"k":1},{"r":32,"c":10,"k":1},{"r":32,"c":11,"k":1},{"r":32,"c":12,"k":2},{"r":32,"c":13,"k":2},{"r":32,"c":14,"k":2},{"r":32,"c":15,"k":3},{"r":32,"c":16,"k":3},{"r":32,"c":17,"k":3},{"r":32,"c":18,"k":3},{"r":32,"c":19,"k":4},{"r":32,"c":20,"k":4},{"r":32,"c":21,"k":4},{"r":32,"c":22,"k":4},{"r":32,"c":23,"k":4},{"r":32,"c":24,"k":4},{"r":32,"c":25,"k":5},{"r":32,"c":26,"k":5},{"r":32,"c":27,"k":6},{"r":32,"c":28,"k":6},{"r":32,"c":29,"k":6},{"r":32,"c":30,"k":6},{"r":32,"c":31,"k":6},{"r":32,"c":32,"k":6},
{"r":33,"c":0,"k":1},{"r":33,"c":1,"k":1},{"r":33,"c":2,"k":1},{"r":33,"c":3,"k":1},{"r":33,"c":4,"k":1},{"r":33,"c":5,"k":1},{"r":33,"c":6,"k":1},{"r":33,"c":7,"k":1},{"r":33,"c":8,"k":1},{"r":33,"c":9,"k":1},{"r":33,"c":10,"k":1},{"r":33,"c":11,"k":1},{"r":33,"c":12,"k":2},{"r":33,"c":13,"k":2},{"r":33,"c":14,"k":2},{"r":33,"c":15,"k":3},{"r":33,"c":16,"k":3},{"r":33,"c":17,"k":3},{"r":33,"c":18,"k":3},{"r":33,"c":19,"k":4},{"r":33,"c":20,"k":4},{"r":33,"c":21,"k":4},{"r":33,"c":22,"k":4},{"r":33,"c":23,"k":4},{"r":33,"c":24,"k":4},{"r":33,"c":25,"k":5},{"r":33,"c":26,"k":5},{"r":33,"c":27,"k":6},{"r":33,"c":28,"k":6},{"r":33,"c":29,"k":6},{"r":33,"c":30,"k":6},{"r":33,"c":31,"k":6},{"r":33,"c":32,"k":6},
{"r":34,"c":0,"k":1},{"r":34,"c":1,"k":1},{"r":34,"c":2,"k":1},{"r":34,"c":3,"k":1},{"r":34,"c":4,"k":1},{"r":34,"c":5,"k":1},{"r":34,"c":6,"k":1},{"r":34,"c":7,"k":1},{"r":34,"c":8,"k":1},{"r":34,"c":9,"k":1},{"r":34,"c":10,"k":1},{"r":34,"c":11,"k":1},{"r":34,"c":12,"k":2},{"r":34,"c":13,"k":2},{"r":34,"c":14,"k":2},{"r":34,"c":15,"k":3},{"r":34,"c":16,"k":3},{"r":34,"c":17,"k":3},{"r":34,"c":18,"k":3},{"r":34,"c":19,"k":2},{"r":34,"c":20,"k":4},{"r":34,"c":21,"k":4},{"r":34,"c":22,"k":4},{"r":34,"c":23,"k":4},{"r":34,"c":24,"k":4},{"r":34,"c":25,"k":5},{"r":34,"c":26,"k":5},{"r":34,"c":27,"k":6},{"r":34,"c":28,"k":6},{"r":34,"c":29,"k":4},{"r":34,"c":30,"k":6},{"r":34,"c":31,"k":6},{"r":34,"c":32,"k":6},
{"r":35,"c":0,"k":1},{"r":35,"c":1,"k":1},{"r":35,"c":2,"k":1},{"r":35,"c":3,"k":1},{"r":35,"c":4,"k":1},{"r":35,"c":5,"k":1},{"r":35,"c":6,"k":1},{"r":35,"c":7,"k":1},{"r":35,"c":8,"k":1},{"r":35,"c":9,"k":1},{"r":35,"c":10,"k":1},{"r":35,"c":11,"k":1},{"r":35,"c":12,"k":2},{"r":35,"c":13,"k":2},{"r":35,"c":14,"k":2},{"r":35,"c":15,"k":3},{"r":35,"c":16,"k":3},{"r":35,"c":17,"k":3},{"r":35,"c":18,"k":3},{"r":35,"c":19,"k":2},{"r":35,"c":20,"k":4},{"r":35,"c":21,"k":4},{"r":35,"c":22,"k":4},{"r":35,"c":23,"k":4},{"r":35,"c":24,"k":4},{"r":35,"c":25,"k":5},{"r":35,"c":26,"k":5},{"r":35,"c":27,"k":6},{"r":35,"c":28,"k":6},{"r":35,"c":29,"k":4},{"r":35,"c":30,"k":6},{"r":35,"c":31,"k":6},{"r":35,"c":32,"k":6},
{"r":36,"c":0,"k":1},{"r":36,"c":1,"k":1},{"r":36,"c":2,"k":1},{"r":36,"c":3,"k":1},{"r":36,"c":4,"k":1},{"r":36,"c":5,"k":1},{"r":36,"c":6,"k":1},{"r":36,"c":7,"k":1},{"r":36,"c":8,"k":1},{"r":36,"c":9,"k":1},{"r":36,"c":10,"k":1},{"r":36,"c":11,"k":1},{"r":36,"c":12,"k":2},{"r":36,"c":13,"k":2},{"r":36,"c":14,"k":2},{"r":36,"c":15,"k":3},{"r":36,"c":16,"k":3},{"r":36,"c":17,"k":3},{"r":36,"c":18,"k":3},{"r":36,"c":19,"k":2},{"r":36,"c":20,"k":4},{"r":36,"c":21,"k":4},{"r":36,"c":22,"k":4},{"r":36,"c":23,"k":4},{"r":36,"c":24,"k":4},{"r":36,"c":25,"k":5},{"r":36,"c":26,"k":5},{"r":36,"c":27,"k":6},{"r":36,"c":28,"k":4},{"r":36,"c":29,"k":6},{"r":36,"c":30,"k":6},{"r":36,"c":31,"k":6},{"r":36,"c":32,"k":6},
{"r":37,"c":0,"k":1},{"r":37,"c":1,"k":1},{"r":37,"c":2,"k":1},{"r":37,"c":3,"k":1},{"r":37,"c":4,"k":1},{"r":37,"c":5,"k":1},{"r":37,"c":6,"k":1},{"r":37,"c":7,"k":1},{"r":37,"c":8,"k":1},{"r":37,"c":9,"k":1},{"r":37,"c":10,"k":1},{"r":37,"c":11,"k":1},{"r":37,"c":12,"k":2},{"r":37,"c":13,"k":2},{"r":37,"c":14,"k":2},{"r":37,"c":15,"k":3},{"r":37,"c":16,"k":3},{"r":37,"c":17,"k":3},{"r":37,"c":18,"k":3},{"r":37,"c":19,"k":2},{"r":37,"c":20,"k":4},{"r":37,"c":21,"k":4},{"r":37,"c":22,"k":4},{"r":37,"c":23,"k":4},{"r":37,"c":24,"k":4},{"r":37,"c":25,"k":5},{"r":37,"c":26,"k":5},{"r":37,"c":27,"k":6},{"r":37,"c":28,"k":4},{"r":37,"c":29,"k":6},{"r":37,"c":30,"k":6},{"r":37,"c":31,"k":6},{"r":37,"c":32,"k":6},
{"r":38,"c":0,"k":1},{"r":38,"c":1,"k":1},{"r":38,"c":2,"k":1},{"r":38,"c":3,"k":1},{"r":38,"c":4,"k":1},{"r":38,"c":5,"k":1},{"r":38,"c":6,"k":1},{"r":38,"c":7,"k":1},{"r":38,"c":8,"k":1},{"r":38,"c":9,"k":1},{"r":38,"c":10,"k":1},{"r":38,"c":11,"k":1},{"r":38,"c":12,"k":2},{"r":38,"c":13,"k":2},{"r":38,"c":14,"k":2},{"r":38,"c":15,"k":3},{"r":38,"c":16,"k":3},{"r":38,"c":17,"k":5},{"r":38,"c":18,"k":5},{"r":38,"c":19,"k":4},{"r":38,"c":20,"k":4},{"r":38,"c":21,"k":4},{"r":38,"c":22,"k":4},{"r":38,"c":23,"k":4},{"r":38,"c":24,"k":4},{"r":38,"c":25,"k":2},{"r":38,"c":26,"k":2},{"r":38,"c":27,"k":6},{"r":38,"c":28,"k":6},{"r":38,"c":29,"k":6},{"r":38,"c":30,"k":6},{"r":38,"c":31,"k":6},{"r":38,"c":32,"k":6},
{"r":39,"c":0,"k":1},{"r":39,"c":1,"k":1},{"r":39,"c":2,"k":1},{"r":39,"c":3,"k":1},{"r":39,"c":4,"k":1},{"r":39,"c":5,"k":1},{"r":39,"c":6,"k":1},{"r":39,"c":7,"k":1},{"r":39,"c":8,"k":1},{"r":39,"c":9,"k":1},{"r":39,"c":10,"k":1},{"r":39,"c":11,"k":1},{"r":39,"c":12,"k":4},{"r":39,"c":13,"k":2},{"r":39,"c":14,"k":2},{"r":39,"c":15,"k":3},{"r":39,"c":16,"k":3},{"r":39,"c":17,"k":3},{"r":39,"c":18,"k":3},{"r":39,"c":19,"k":2},{"r":39,"c":20,"k":6},{"r":39,"c":21,"k":6},{"r":39,"c":22,"k":6},{"r":39,"c":23,"k":6},{"r":39,"c":24,"k":6},{"r":39,"c":25,"k":5},{"r":39,"c":26,"k":5},{"r":39,"c":27,"k":1},{"r":39,"c":28,"k":6},{"r":39,"c":29,"k":6},{"r":39,"c":30,"k":6},{"r":39,"c":31,"k":6},{"r":39,"c":32,"k":6},
{"r":40,"c":0,"k":1},{"r":40,"c":1,"k":1},{"r":40,"c":2,"k":1},{"r":40,"c":3,"k":1},{"r":40,"c":4,"k":1},{"r":40,"c":5,"k":1},{"r":40,"c":6,"k":1},{"r":40,"c":7,"k":1},{"r":40,"c":8,"k":1},{"r":40,"c":9,"k":1},{"r":40,"c":10,"k":1},{"r":40,"c":11,"k":1},{"r":40,"c":12,"k":4},{"r":40,"c":13,"k":2},{"r":40,"c":14,"k":2},{"r":40,"c":15,"k":3},{"r":40,"c":16,"k":3},{"r":40,"c":17,"k":3},{"r":40,"c":18,"k":3},{"r":40,"c":19,"k":2},{"r":40,"c":20,"k":6},{"r":40,"c":21,"k":6},{"r":40,"c":22,"k":6},{"r":40,"c":23,"k":6},{"r":40,"c":24,"k":6},{"r":40,"c":25,"k":5},{"r":40,"c":26,"k":5},{"r":40,"c":27,"k":1},{"r":40,"c":28,"k":6},{"r":40,"c":29,"k":6},{"r":40,"c":30,"k":6},{"r":40,"c":31,"k":6},{"r":40,"c":32,"k":6},
{"r":41,"c":0,"k":1},{"r":41,"c":1,"k":1},{"r":41,"c":2,"k":1},{"r":41,"c":3,"k":1},{"r":41,"c":4,"k":1},{"r":41,"c":5,"k":1},{"r":41,"c":6,"k":1},{"r":41,"c":7,"k":1},{"r":41,"c":8,"k":1},{"r":41,"c":9,"k":1},{"r":41,"c":10,"k":1},{"r":41,"c":11,"k":1},{"r":41,"c":12,"k":2},{"r":41,"c":13,"k":2},{"r":41,"c":14,"k":2},{"r":41,"c":15,"k":3},{"r":41,"c":16,"k":3},{"r":41,"c":17,"k":3},{"r":41,"c":18,"k":3},{"r":41,"c":19,"k":2},{"r":41,"c":20,"k":6},{"r":41,"c":21,"k":6},{"r":41,"c":22,"k":6},{"r":41,"c":23,"k":6},{"r":41,"c":24,"k":6},{"r":41,"c":25,"k":4},{"r":41,"c":26,"k":5},{"r":41,"c":27,"k":1},{"r":41,"c":28,"k":6},{"r":41,"c":29,"k":6},{"r":41,"c":30,"k":6},{"r":41,"c":31,"k":6},{"r":41,"c":32,"k":6},
{"r":42,"c":0,"k":1},{"r":42,"c":1,"k":1},{"r":42,"c":2,"k":1},{"r":42,"c":3,"k":1},{"r":42,"c":4,"k":1},{"r":42,"c":5,"k":1},{"r":42,"c":6,"k":1},{"r":42,"c":7,"k":1},{"r":42,"c":8,"k":1},{"r":42,"c":9,"k":1},{"r":42,"c":10,"k":1},{"r":42,"c":11,"k":1},{"r":42,"c":12,"k":4},{"r":42,"c":13,"k":2},{"r":42,"c":14,"k":2},{"r":42,"c":15,"k":3},{"r":42,"c":16,"k":3},{"r":42,"c":17,"k":3},{"r":42,"c":18,"k":3},{"r":42,"c":19,"k":2},{"r":42,"c":20,"k":2},{"r":42,"c":21,"k":6},{"r":42,"c":22,"k":6},{"r":42,"c":23,"k":6},{"r":42,"c":24,"k":6},{"r":42,"c":25,"k":5},{"r":42,"c":26,"k":5},{"r":42,"c":27,"k":1},{"r":42,"c":28,"k":6},{"r":42,"c":29,"k":6},{"r":42,"c":30,"k":6},{"r":42,"c":31,"k":6},{"r":42,"c":32,"k":6},
{"r":43,"c":0,"k":1},{"r":43,"c":1,"k":1},{"r":43,"c":2,"k":1},{"r":43,"c":3,"k":1},{"r":43,"c":4,"k":1},{"r":43,"c":5,"k":1},{"r":43,"c":6,"k":1},{"r":43,"c":7,"k":1},{"r":43,"c":8,"k":1},{"r":43,"c":9,"k":1},{"r":43,"c":10,"k":1},{"r":43,"c":11,"k":1},{"r":43,"c":12,"k":4},{"r":43,"c":13,"k":2},{"r":43,"c":14,"k":2},{"r":43,"c":15,"k":3},{"r":43,"c":16,"k":3},{"r":43,"c":17,"k":3},{"r":43,"c":18,"k":3},{"r":43,"c":19,"k":2},{"r":43,"c":20,"k":2},{"r":43,"c":21,"k":6},{"r":43,"c":22,"k":6},{"r":43,"c":23,"k":6},{"r":43,"c":24,"k":6},{"r":43,"c":25,"k":5},{"r":43,"c":26,"k":5},{"r":43,"c":27,"k":1},{"r":43,"c":28,"k":6},{"r":43,"c":29,"k":6},{"r":43,"c":30,"k":6},{"r":43,"c":31,"k":6},{"r":43,"c":32,"k":6},
{"r":44,"c":0,"k":1},{"r":44,"c":1,"k":1},{"r":44,"c":2,"k":1},{"r":44,"c":3,"k":1},{"r":44,"c":4,"k":1},{"r":44,"c":5,"k":1},{"r":44,"c":6,"k":1},{"r":44,"c":7,"k":1},{"r":44,"c":8,"k":1},{"r":44,"c":9,"k":1},{"r":44,"c":10,"k":1},{"r":44,"c":11,"k":1},{"r":44,"c":12,"k":4},{"r":44,"c":13,"k":2},{"r":44,"c":14,"k":2},{"r":44,"c":15,"k":3},{"r":44,"c":16,"k":3},{"r":44,"c":17,"k":3},{"r":44,"c":18,"k":3},{"r":44,"c":19,"k":2},{"r":44,"c":20,"k":2},{"r":44,"c":21,"k":6},{"r":44,"c":22,"k":6},{"r":44,"c":23,"k":6},{"r":44,"c":24,"k":6},{"r":44,"c":25,"k":5},{"r":44,"c":26,"k":5},{"r":44,"c":27,"k":1},{"r":44,"c":28,"k":6},{"r":44,"c":29,"k":6},{"r":44,"c":30,"k":6},{"r":44,"c":31,"k":6},{"r":44,"c":32,"k":6},
{"r":45,"c":0,"k":1},{"r":45,"c":1,"k":1},{"r":45,"c":2,"k":1},{"r":45,"c":3,"k":1},{"r":45,"c":4,"k":1},{"r":45,"c":5,"k":1},{"r":45,"c":6,"k":1},{"r":45,"c":7,"k":1},{"r":45,"c":8,"k":1},{"r":45,"c":9,"k":1},{"r":45,"c":10,"k":1},{"r":45,"c":11,"k":1},{"r":45,"c":12,"k":4},{"r":45,"c":13,"k":2},{"r":45,"c":14,"k":2},{"r":45,"c":15,"k":3},{"r":45,"c":16,"k":3},{"r":45,"c":17,"k":3},{"r":45,"c":18,"k":3},{"r":45,"c":19,"k":2},{"r":45,"c":20,"k":2},{"r":45,"c":21,"k":6},{"r":45,"c":22,"k":6},{"r":45,"c":23,"k":6},{"r":45,"c":24,"k":6},{"r":45,"c":25,"k":5},{"r":45,"c":26,"k":5},{"r":45,"c":27,"k":1},{"r":45,"c":28,"k":6},{"r":45,"c":29,"k":6},{"r":45,"c":30,"k":6},{"r":45,"c":31,"k":6},{"r":45,"c":32,"k":6},
{"r":46,"c":0,"k":1},{"r":46,"c":1,"k":1},{"r":46,"c":2,"k":1},{"r":46,"c":3,"k":1},{"r":46,"c":4,"k":1},{"r":46,"c":5,"k":1},{"r":46,"c":6,"k":1},{"r":46,"c":7,"k":1},{"r":46,"c":8,"k":1},{"r":46,"c":9,"k":1},{"r":46,"c":10,"k":1},{"r":46,"c":11,"k":1},{"r":46,"c":12,"k":4},{"r":46,"c":13,"k":2},{"r":46,"c":14,"k":2},{"r":46,"c":15,"k":3},{"r":46,"c":16,"k":3},{"r":46,"c":17,"k":3},{"r":46,"c":18,"k":3},{"r":46,"c":19,"k":2},{"r":46,"c":20,"k":2},{"r":46,"c":21,"k":6},{"r":46,"c":22,"k":6},{"r":46,"c":23,"k":6},{"r":46,"c":24,"k":6},{"r":46,"c":25,"k":5},{"r":46,"c":26,"k":5},{"r":46,"c":27,"k":1},{"r":46,"c":28,"k":6},{"r":46,"c":29,"k":6},{"r":46,"c":30,"k":6},{"r":46,"c":31,"k":6},{"r":46,"c":32,"k":6},
{"r":47,"c":0,"k":1},{"r":47,"c":1,"k":1},{"r":47,"c":2,"k":1},{"r":47,"c":3,"k":1},{"r":47,"c":4,"k":1},{"r":47,"c":5,"k":1},{"r":47,"c":6,"k":1},{"r":47,"c":7,"k":1},{"r":47,"c":8,"k":1},{"r":47,"c":9,"k":1},{"r":47,"c":10,"k":1},{"r":47,"c":11,"k":1},{"r":47,"c":12,"k":4},{"r":47,"c":13,"k":2},{"r":47,"c":14,"k":2},{"r":47,"c":15,"k":3},{"r":47,"c":16,"k":5},{"r":47,"c":17,"k":3},{"r":47,"c":18,"k":3},{"r":47,"c":19,"k":2},{"r":47,"c":20,"k":2},{"r":47,"c":21,"k":6},{"r":47,"c":22,"k":6},{"r":47,"c":23,"k":6},{"r":47,"c":24,"k":6},{"r":47,"c":25,"k":2},{"r":47,"c":26,"k":2},{"r":47,"c":27,"k":1},{"r":47,"c":28,"k":6},{"r":47,"c":29,"k":6},{"r":47,"c":30,"k":6},{"r":47,"c":31,"k":6},{"r":47,"c":32,"k":6},
{"r":48,"c":0,"k":1},{"r":48,"c":1,"k":1},{"r":48,"c":2,"k":1},{"r":48,"c":3,"k":1},{"r":48,"c":4,"k":1},{"r":48,"c":5,"k":1},{"r":48,"c":6,"k":1},{"r":48,"c":7,"k":1},{"r":48,"c":8,"k":1},{"r":48,"c":9,"k":1},{"r":48,"c":10,"k":1},{"r":48,"c":11,"k":1},{"r":48,"c":12,"k":6},{"r":48,"c":13,"k":2},{"r":48,"c":14,"k":2},{"r":48,"c":15,"k":3},{"r":48,"c":16,"k":3},{"r":48,"c":17,"k":3},{"r":48,"c":18,"k":3},{"r":48,"c":19,"k":2},{"r":48,"c":20,"k":4},{"r":48,"c":21,"k":4},{"r":48,"c":22,"k":4},{"r":48,"c":23,"k":4},{"r":48,"c":24,"k":4},{"r":48,"c":25,"k":5},{"r":48,"c":26,"k":5},{"r":48,"c":27,"k":1},{"r":48,"c":28,"k":4},{"r":48,"c":29,"k":4},{"r":48,"c":30,"k":4},{"r":48,"c":31,"k":4},{"r":48,"c":32,"k":4},
{"r":49,"c":0,"k":1},{"r":49,"c":1,"k":1},{"r":49,"c":2,"k":1},{"r":49,"c":3,"k":1},{"r":49,"c":4,"k":1},{"r":49,"c":5,"k":1},{"r":49,"c":6,"k":1},{"r":49,"c":7,"k":1},{"r":49,"c":8,"k":1},{"r":49,"c":9,"k":1},{"r":49,"c":10,"k":1},{"r":49,"c":11,"k":1},{"r":49,"c":12,"k":2},{"r":49,"c":13,"k":2},{"r":49,"c":14,"k":2},{"r":49,"c":15,"k":3},{"r":49,"c":16,"k":3},{"r":49,"c":17,"k":3},{"r":49,"c":18,"k":3},{"r":49,"c":19,"k":2},{"r":49,"c":20,"k":4},{"r":49,"c":21,"k":4},{"r":49,"c":22,"k":4},{"r":49,"c":23,"k":4},{"r":49,"c":24,"k":4},{"r":49,"c":25,"k":6},{"r":49,"c":26,"k":5},{"r":49,"c":27,"k":1},{"r":49,"c":28,"k":4},{"r":49,"c":29,"k":4},{"r":49,"c":30,"k":4},{"r":49,"c":31,"k":4},{"r":49,"c":32,"k":4}
]
},
"concat": [
{"width": 28, "height": 14, "data": {"values": []}, "mark": "point", "encoding": {}},
{"width": 408, "height": 85,
 "title": {"text": "membership heatmap, k = 6", "fontSize": 13, "fontWeight": "normal", "font": "Liberation Sans", "color": "black", "anchor": "middle", "frame": "group", "baseline": "alphabetic", "offset": -4},
 "data": {"name": "p"},
 "mark": {"type": "rect", "strokeWidth": 1},
 "encoding": {
  "x": {"field": "c", "type": "ordinal", "axis": null, "scale": {"paddingInner": 0, "paddingOuter": 0}},
  "y": {"field": "p", "type": "nominal", "sort": ["p1","p2","p3","p4","p5","p6"], "scale": {"paddingInner": 0, "paddingOuter": 0}, "axis": {"orient": "right", "title": null, "ticks": false, "domain": false, "grid": false, "labelPadding": 3, "labelFontSize": 11, "labelColor": "black", "labelFont": "Liberation Sans"}},
  "fill": {"field": "v", "type": "quantitative", "scale": {"domain": [0, 1], "range": ["#ffffff", "#ff0000"], "interpolate": "lab"},
   "legend": {"type": "gradient", "title": "Prob", "orient": "none", "legendX": 413, "legendY": 204, "direction": "vertical", "gradientLength": 56, "gradientThickness": 13, "gradientStrokeWidth": 0, "values": [0, 0.5, 1], "format": "~g", "labelFontSize": 10, "labelFont": "Liberation Sans", "labelColor": "black", "labelOffset": 2, "titleFontSize": 10, "titleFont": "Liberation Sans", "titleFontWeight": "bold", "titleColor": "black", "titlePadding": 4}},
  "stroke": {"field": "v", "type": "quantitative", "scale": {"range": ["#ffffff", "#ff0000"], "interpolate": "lab", "zero": true, "nice": false}, "legend": null}
 }
},
{"width": 28, "height": 14, "data": {"values": []}, "mark": "point", "encoding": {}},
{"width": 408, "height": 14,
 "data": {"name": "k"},
 "mark": {"type": "rect", "strokeWidth": 1},
 "encoding": {
  "x": {"field": "c", "type": "ordinal", "axis": null, "scale": {"paddingInner": 0, "paddingOuter": 0}},
  "y": {"datum": "Class", "type": "nominal", "scale": {"paddingInner": 0, "paddingOuter": 0}, "axis": {"orient": "right", "title": null, "ticks": false, "domain": false, "grid": false, "labelPadding": 3, "labelFontSize": 11, "labelColor": "black", "labelFont": "Liberation Sans"}},
  "fill": {"field": "k", "type": "nominal", "scale": {"domain": [1,2,3,4,5,6], "range": ["#66C2A5","#FC8D62","#8DA0CB","#E78AC3","#A6D854","#FFD92F"]}, "legend": null},
  "stroke": {"field": "k", "type": "nominal", "scale": {"domain": [1,2,3,4,5,6], "range": ["#66C2A5","#FC8D62","#8DA0CB","#E78AC3","#A6D854","#FFD92F"]}, "legend": null}
 }
},
{"width": 28, "height": 372,
 "layer": [
  {"data": {"name": "m"}, "transform": [{"filter": "datum.c == 0"}],
   "mark": {"type": "rect", "fill": "#7FC97F", "stroke": "#7FC97F", "strokeWidth": 1},
   "encoding": {"y": {"field": "r", "type": "ordinal", "scale": {"paddingInner": 0, "paddingOuter": 0},
     "axis": {"title": "50 x 1 random samplings", "labels": false, "ticks": false, "domain": false, "grid": false, "titleFontSize": 13, "titleFontWeight": "normal", "titleFont": "Liberation Sans", "titleColor": "black", "titlePadding": 5, "titleY": 123}}}},
  {"data": {"values": [{"t": "top 1000 rows"}]},
   "mark": {"type": "text", "angle": 270, "fontSize": 9, "font": "Liberation Sans", "color": "black"},
   "encoding": {"text": {"field": "t"}}}
 ]
},
{"width": 408, "height": 372,
 "data": {"name": "m"},
 "mark": {"type": "rect", "strokeWidth": 1},
 "encoding": {
  "x": {"field": "c", "type": "ordinal", "axis": null, "scale": {"paddingInner": 0, "paddingOuter": 0}},
  "y": {"field": "r", "type": "ordinal", "axis": null, "scale": {"paddingInner": 0, "paddingOuter": 0}},
  "fill": {"field": "k", "type": "nominal", "scale": {"domain": [1,2,3,4,5,6], "range": ["#66C2A5","#FC8D62","#8DA0CB","#E78AC3","#A6D854","#FFD92F"]},
   "legend": {"title": "Class", "orient": "none", "legendX": 413, "legendY": 188, "symbolType": "square", "symbolSize": 121, "symbolStrokeWidth": 0, "symbolOpacity": 1, "rowPadding": 0, "labelFontSize": 10, "labelFont": "Liberation Sans", "labelColor": "black", "labelOffset": 2, "titleFontSize": 10, "titleFont": "Liberation Sans", "titleFontWeight": "bold", "titleColor": "black", "titlePadding": 3}},
  "stroke": {"field": "k", "type": "nominal", "scale": {"domain": [1,2,3,4,5,6], "range": ["#66C2A5","#FC8D62","#8DA0CB","#E78AC3","#A6D854","#FFD92F"]}, "legend": null}
 }
}
]
}
